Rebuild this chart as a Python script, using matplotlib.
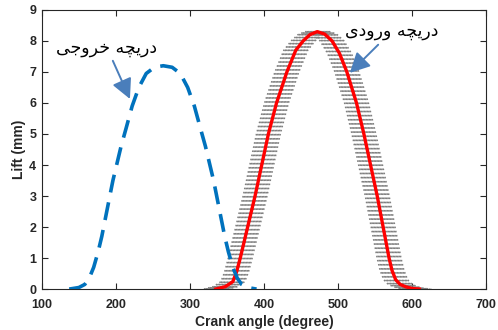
import numpy as np
import matplotlib
matplotlib.use('Agg')
import matplotlib.pyplot as plt

# exhaust valve lift (blue dashed)
exh_angle = [137, 150, 158, 164, 170, 176, 181, 186, 191, 196, 201, 207, 214, 222, 231, 241, 252, 264,
             276, 287, 297, 306, 314, 321, 327, 332, 337, 342, 347, 352, 358, 364, 370, 378, 390]
exh_lift = [0, 0.05, 0.15, 0.35, 0.7, 1.2, 1.7, 2.3, 2.9, 3.5, 4.0, 4.6, 5.2, 5.9, 6.5, 6.95, 7.15, 7.2,
            7.15, 6.95, 6.5, 5.9, 5.2, 4.6, 4.0, 3.5, 2.9, 2.3, 1.7, 1.2, 0.7, 0.35, 0.15, 0.05, 0]

# intake valve lift (red)
int_angle = [335, 348, 358, 363, 368, 373, 379, 388, 397, 406, 417, 431, 443, 453, 462, 472,
             482, 492, 502, 512, 525, 535, 544, 553, 561, 565, 569, 573, 578, 584, 592, 600, 610]
int_lift = [0, 0.08, 0.24, 0.55, 1.0, 1.5, 2.1, 3.0, 4.0, 5.0, 6.0, 7.0, 7.7, 8.0, 8.2, 8.3,
            8.22, 8.0, 7.6, 7.0, 6.0, 5.0, 4.0, 3.0, 2.0, 1.5, 1.0, 0.6, 0.3, 0.15, 0.07, 0.02, 0]

# shifted intake profiles forming the gray band (degrees)
band_shift = [-16, -14, -12, -10, -8, -6, -4, -2, 0, 2, 4, 6, 8, 10, 12, 14, 16]

exh_label = 'دریچه خروجی'
int_label = 'دریچه ورودی'

# matplotlib does no arabic shaping, so pick presentation forms by hand
# (isolated, final, initial, medial)
FORMS = {
    'د': ('\uFEA9', '\uFEAA', None, None),
    'ر': ('\uFEAD', '\uFEAE', None, None),
    'و': ('\uFEED', '\uFEEE', None, None),
    'ی': ('\uFBFC', '\uFBFD', '\uFBFE', '\uFBFF'),
    'چ': ('\uFB7A', '\uFB7B', '\uFB7C', '\uFB7D'),
    'ه': ('\uFEE9', '\uFEEA', '\uFEEB', '\uFEEC'),
    'خ': ('\uFEA5', '\uFEA6', '\uFEA7', '\uFEA8'),
    'ج': ('\uFE9D', '\uFE9E', '\uFE9F', '\uFEA0'),
}


def shape(text):
    out = []
    for word in text.split(' '):
        chars = []
        for i, c in enumerate(word):
            prev_joins = i > 0 and FORMS[word[i - 1]][2] is not None
            next_joins = i < len(word) - 1 and FORMS[c][2] is not None
            f = FORMS[c]
            if prev_joins and next_joins:
                chars.append(f[3])
            elif prev_joins:
                chars.append(f[1])
            elif next_joins:
                chars.append(f[2])
            else:
                chars.append(f[0])
        out.append(''.join(chars[::-1]))
    return ' '.join(out[::-1])


plt.rcParams['font.family'] = ['Liberation Sans', 'DejaVu Sans']
dark = '#262626'
arrow_col = '#4a7ebb'

fig = plt.figure(figsize=(4.98, 3.3), dpi=100)
ax = fig.add_axes([0.084, 0.124, 0.892, 0.846])

int_angle_arr = np.array(int_angle)
for s in band_shift:
    ax.plot(int_angle_arr + s, int_lift, color='#808080', lw=1.15, ls=':', zorder=2)
ax.plot(int_angle, int_lift, color='#ff0000', lw=2.4, zorder=3)
ax.plot(exh_angle, exh_lift, color='#0072BD', lw=2.6, dashes=(5, 2.8), zorder=4)

arrow = dict(arrowstyle='-|>,head_length=0.55,head_width=0.28', color=arrow_col, lw=1.4,
             mutation_scale=22, shrinkB=0)
ax.annotate(shape(exh_label), xy=(219, 6.13), xytext=(188, 7.78), ha='center', va='center',
            fontsize=12.5, family=['DejaVu Sans'], arrowprops=dict(arrow, shrinkA=1))
ax.annotate(shape(int_label), xy=(516, 6.97), xytext=(573, 8.32), ha='center', va='center',
            fontsize=12.5, family=['DejaVu Sans'], arrowprops=dict(arrow, shrinkA=2))

ax.set_xlim(100, 700)
ax.set_ylim(0, 9)
ax.set_xticks(range(100, 701, 100))
ax.set_yticks(range(0, 10))
ax.tick_params(direction='in', top=True, right=True, length=4, width=0.8, color=dark,
               labelsize=9, labelcolor=dark)
ax.tick_params(axis='x', pad=7)
ax.tick_params(axis='y', pad=4)
for lab in ax.get_xticklabels() + ax.get_yticklabels():
    lab.set_fontweight('bold')
for sp in ax.spines.values():
    sp.set_color(dark)
    sp.set_linewidth(0.8)

ax.set_xlabel('Crank angle (degree)', fontsize=10, fontweight='bold', color=dark, labelpad=3)
ax.set_ylabel('Lift (mm)', fontsize=10, fontweight='bold', color=dark, labelpad=2)

fig.savefig('out.png', dpi=100)
